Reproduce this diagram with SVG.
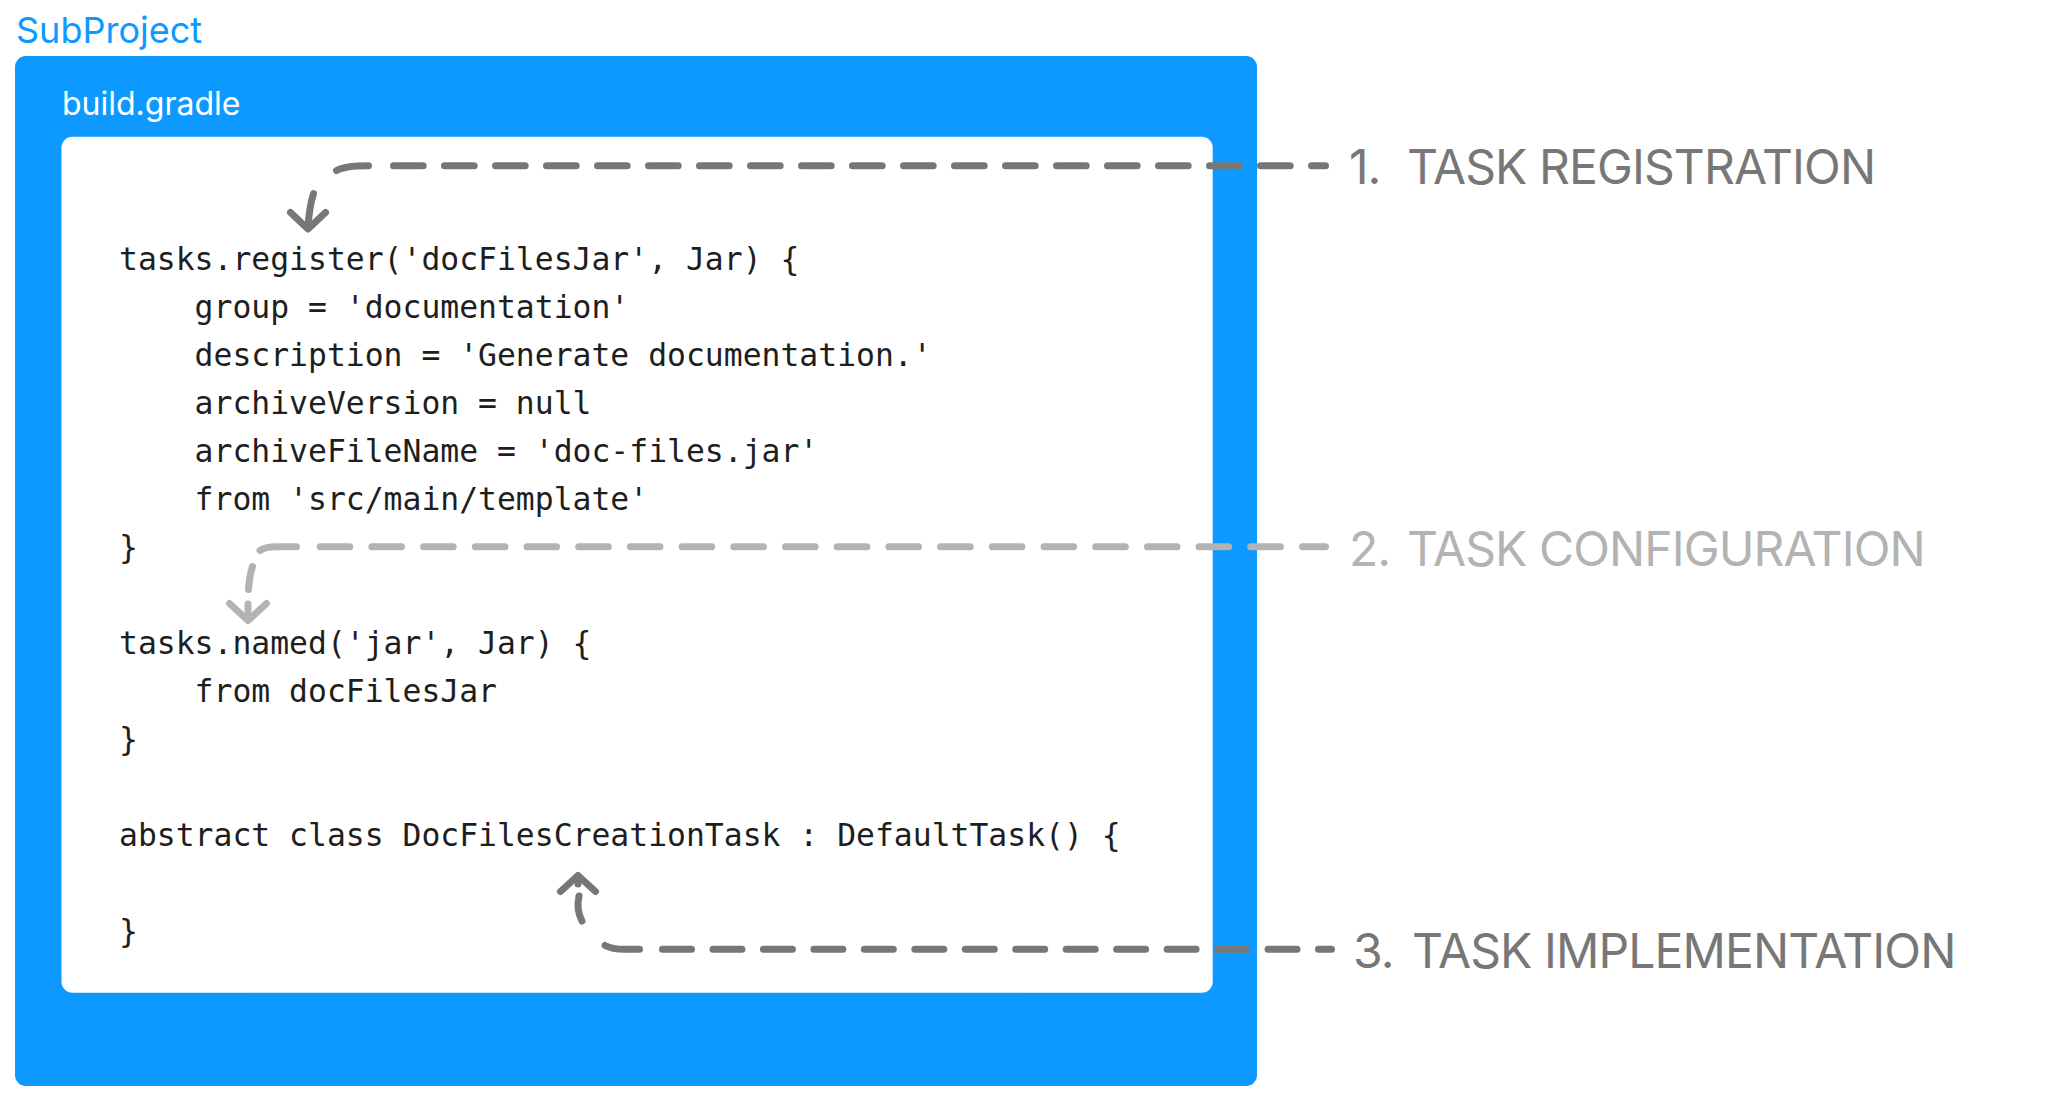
<svg xmlns="http://www.w3.org/2000/svg" width="2050" height="1100" viewBox="0 0 2050 1100">
<style>
  .title { font-family: Inter, "Noto Sans", sans-serif; fill: #0D99FF; font-size: 36px; }
  .file { font-family: Inter, "Noto Sans", sans-serif; fill: #ffffff; font-size: 32px; }
  .code { font-family: "DejaVu Sans Mono", "Liberation Mono", monospace; fill: #1e1e1e; font-size: 31.4px; }
  .label { font-family: Inter, "Noto Sans", sans-serif; font-size: 48px; letter-spacing: -0.9px; }
  .dark { fill: #777777; }
  .light { fill: #b3b3b3; }
  .ln { fill: none; stroke-width: 7; stroke-linecap: round; stroke-linejoin: round; }
  .sd { stroke: #777777; }
  .sl { stroke: #b3b3b3; }
</style>
<rect width="2050" height="1100" fill="#ffffff"/>
<g id="subproject">
  <text class="title" x="16" y="43">SubProject</text>
  <rect x="15" y="56" width="1242" height="1030" rx="11" fill="#0D99FF"/>
</g>
<g id="build-gradle">
  <text class="file" x="62" y="115">build.gradle</text>
  <rect x="61.5" y="136.7" width="1151.2" height="856" rx="11" fill="#ffffff"/>
  <g id="code">
    <text class="code" x="119" y="270">tasks.register('docFilesJar', Jar) {</text>
    <text class="code" x="194.6" y="318">group = 'documentation'</text>
    <text class="code" x="194.6" y="366">description = 'Generate documentation.'</text>
    <text class="code" x="194.6" y="414">archiveVersion = null</text>
    <text class="code" x="194.6" y="462">archiveFileName = 'doc-files.jar'</text>
    <text class="code" x="194.6" y="510">from 'src/main/template'</text>
    <text class="code" x="119" y="558">}</text>
    <text class="code" x="119" y="654">tasks.named('jar', Jar) {</text>
    <text class="code" x="194.6" y="702">from docFilesJar</text>
    <text class="code" x="119" y="750">}</text>
    <text class="code" x="119" y="846">abstract class DocFilesCreationTask : DefaultTask() {</text>
    <text class="code" x="119" y="942">}</text>
  </g>
</g>
<g id="connectors">
  <g id="c1">
    <path class="ln sd" d="M368.5,165.7 Q345,165.7 336.5,170.5"/>
    <path class="ln sd" d="M393.5,165.7 H1325.5" stroke-dasharray="29.7 21.3"/>
    <path class="ln sd" d="M313.5,193.5 Q309,208 308,228"/>
    <path class="ln sd" d="M290.5,212.5 L308,229 L325.5,212.5"/>
  </g>
  <g id="c2">
    <path class="ln sl" d="M296.5,546.7 L276,546.7 Q265,546.7 260,550.5"/>
    <path class="ln sl" d="M320.2,546.7 H1325.5" stroke-dasharray="29.6 22.1"/>
    <path class="ln sl" d="M252.5,566.5 Q249.5,575 248.5,589.5"/>
    <path class="ln sl" d="M248,604 L248,617"/>
    <path class="ln sl" d="M229.5,603.5 L248,620.5 L266.5,603.5"/>
  </g>
  <g id="c3">
    <path class="ln sd" d="M579,896 Q576,910 582,921"/>
    <path class="ln sd" d="M578,877 L578,884"/>
    <path class="ln sd" d="M560.5,891.5 L578,875.5 L595.5,891.5"/>
    <path class="ln sd" d="M605,945.5 Q612,949.3 625,949.3 L639.5,949.3"/>
    <path class="ln sd" d="M662.5,949.3 H1331.5" stroke-dasharray="29 21.46"/>
  </g>
</g>
<g id="label-1">
  <text class="label dark" y="184"><tspan x="1349">1.</tspan><tspan x="1407">TASK REGISTRATION</tspan></text>
</g>
<g id="label-2">
  <text class="label light" y="566"><tspan x="1349">2.</tspan><tspan x="1407">TASK CONFIGURATION</tspan></text>
</g>
<g id="label-3">
  <text class="label dark" y="968"><tspan x="1353">3.</tspan><tspan x="1412">TASK IMPLEMENTATION</tspan></text>
</g>
</svg>
